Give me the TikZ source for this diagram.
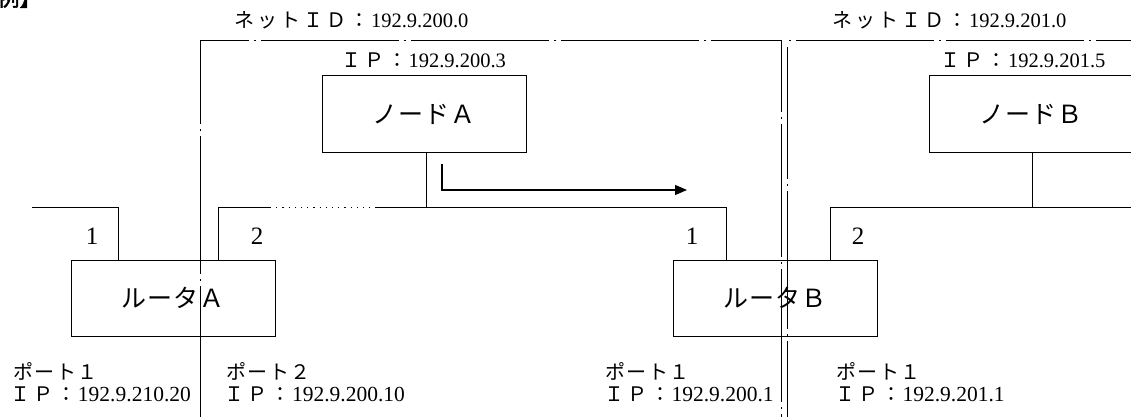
\documentclass[tikz,border=0pt]{standalone}
\usepackage{fontspec}
\setmainfont{Liberation Serif}
\newfontfamily\jp{Noto Sans CJK JP}
\newfontfamily\jpn[LetterSpace=3]{Noto Sans CJK JP}
\newfontfamily\jpbold[FakeBold=2]{Noto Sans CJK JP}
\usetikzlibrary{arrows.meta,calc}
\newcommand\lblsize{\fontsize{20.5}{25}\selectfont}
\newcommand\botsize{\fontsize{21.5}{25}\selectfont}
\newcommand\bigsize{\fontsize{25}{30}\selectfont}
\newcommand\portsize{\fontsize{25}{30}\selectfont}
\newcommand\exsize{\fontsize{22}{26}\selectfont}
% full-width characters set on a fixed pitch
\newlength\cjkpitch
\newcommand\cjk[2][23pt]{{\jp\fontsize{20}{25}\selectfont\setlength\cjkpitch{#1}\cjkloop#2\relax}}
\def\cjkloop#1{\ifx\relax#1\else\makebox[\cjkpitch][c]{#1}\expandafter\cjkloop\fi}
\begin{document}
\begin{tikzpicture}[x=1pt,y=-1pt,line width=1pt,
  box/.style={draw, minimum width=204pt, minimum height=76pt, inner sep=0pt, font=\bigsize\jpn},
  lbl/.style={inner sep=0pt, font=\lblsize},
  bot/.style={inner sep=0pt, font=\botsize, anchor=west},
  portno/.style={inner sep=0pt, font=\portsize},
  netline/.style={line width=0.9pt, dash pattern=on 138pt off 5pt on 2pt off 5pt},
  netlineb/.style={line width=0.9pt, dash pattern=on 133pt off 5pt on 2pt off 5pt},
  wire/.style={line width=1pt},
  dotwire/.style={line width=1pt, dash pattern=on 1.2pt off 5pt},
  flow/.style={line width=1.2pt,-{Triangle[length=12pt,width=10pt]}}]
\fill[white] (0,0) rectangle (1131,417);
\useasboundingbox (0,0) rectangle (1131,417);

% boxes
\node[box] (nA) at (424,114) {ノードＡ};
\node[box] (nB) at (1031,114) {ノードＢ};
\node[box] (rA) at (173,298) {ルータＡ};
\node[box] (rB) at (775,298) {ルータＢ};

% network boundaries (dash-dot)
\coordinate (nAtl) at (200,40);
\coordinate (nAbl) at (200,420);
\coordinate (nAtr) at (781,40);
\coordinate (nAbr) at (781,420);
\coordinate (nBtl) at (787,47);
\coordinate (nBbl) at (787,420);
\coordinate (nBt0) at (785,40);
\coordinate (nBtr) at (1140,40);
\draw[netline, dash phase=54pt] (nAtl) -- (nAbl);
\draw[netline, dash phase=89pt] (nAtl) -- (nAtr);
\draw[netlineb, dash phase=61pt] (nAtr) -- (nAbr);
\draw[netline, dash phase=6pt] (nBtl) -- (nBbl);
\draw[netline, dash phase=139pt] (nBt0) -- (nBtr);

% ports and buses
\coordinate (wA) at (32,207);
\coordinate (pA1) at ($(rA.north west)+(48,0)$);
\coordinate (pA2) at ($(rA.north west)+(148,0)$);
\coordinate (sA) at ($(nA.south west)+(105,0)$);
\coordinate (jA) at (sA |- wA);
\coordinate (d1) at (270,207);
\coordinate (d2) at (377,207);
\coordinate (pB1) at ($(rB.north west)+(54,0)$);
\coordinate (pB2) at ($(rB.north west)+(158,0)$);
\coordinate (sB) at ($(nB.south west)+(104,0)$);
\coordinate (eB) at (1140,207);
\coordinate (jB) at (sB |- eB);

\draw[wire] (wA) -| (pA1);
\draw[wire] (pA2) |- (d1);
\draw[dotwire] (d1) -- (d2);
\draw[wire] (d2) -- (jA);
\draw[wire] (sA) -- (jA) -| (pB1);
\draw[wire] (pB2) |- (eB);
\draw[wire] (sB) -- (jB);

% flow arrow
\coordinate (ar0) at (442,164);
\coordinate (ar1) at (687,190);
\draw[flow] (ar0) |- (ar1);

% labels
\node[inner sep=0pt, anchor=base west, font=\exsize\jpbold] (ex) at (-3,6) {例】};
\node[lbl,anchor=west] (netA) at (232.5,20) {\cjk{ネットＩＤ：}192.9.200.0};
\node[lbl,anchor=west] (netB) at (830.5,20) {\cjk{ネットＩＤ：}192.9.201.0};
\node[lbl,anchor=west] (ipNA) at (339,60) {\cjk{ＩＰ：}192.9.200.3};
\node[lbl,anchor=west] (ipNB) at (938.5,60) {\cjk{ＩＰ：}192.9.201.5};

\node[portno] (n1A) at (92,236) {1};
\node[portno] (n2A) at (257,236) {2};
\node[portno] (n1B) at (692,236) {1};
\node[portno] (n2B) at (858,236) {2};

\node[bot] (ptA1) at (12,371) {\cjk[21.5pt]{ポート１}};
\node[bot] (ipA1) at (8.5,394) {\cjk{ＩＰ：}192.9.210.20};
\node[bot] (ptA2) at (225,371) {\cjk[21.5pt]{ポート２}};
\node[bot] (ipA2) at (222.5,394) {\cjk{ＩＰ：}192.9.200.10};
\node[bot] (ptB1) at (604,371) {\cjk[21.5pt]{ポート１}};
\node[bot] (ipB1) at (602,394) {\cjk{ＩＰ：}192.9.200.1};
\node[bot] (ptB2) at (835,371) {\cjk[21.5pt]{ポート１}};
\node[bot] (ipB2) at (833,394) {\cjk{ＩＰ：}192.9.201.1};
\end{tikzpicture}
\end{document}
